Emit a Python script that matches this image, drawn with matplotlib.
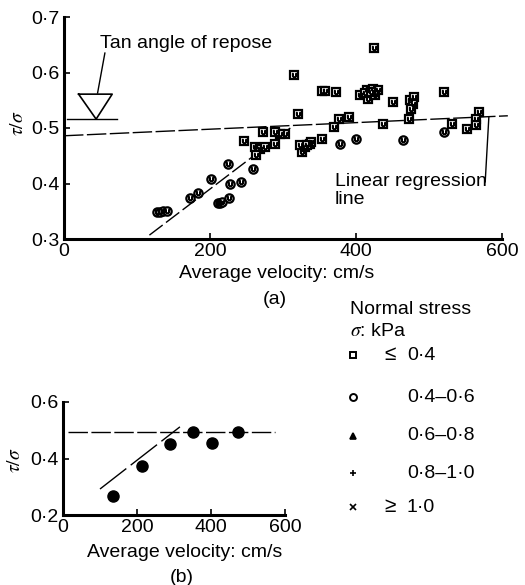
import matplotlib
matplotlib.use('Agg')
import matplotlib.pyplot as plt
from matplotlib.ticker import FuncFormatter

plt.rcParams['font.family'] = ['Liberation Sans', 'DejaVu Sans']
plt.rcParams['mathtext.fontset'] = 'stix'
plt.rcParams['font.size'] = 14

# (a) stress ratio vs velocity, sigma < 0.4 kPa (squares)
sq_x = [425, 315, 320, 354, 357, 373, 405, 415, 423, 430, 417, 426, 412, 420,
        450, 474, 480, 478, 476, 520, 568, 565, 564, 552, 532, 473, 437, 391,
        377, 370, 354, 326, 330, 337, 323, 339, 333, 303, 296, 289, 289, 273,
        262, 268, 275, 263, 246]
sq_y = [0.644, 0.595, 0.526, 0.567, 0.567, 0.564, 0.559, 0.568, 0.571, 0.568,
        0.553, 0.560, 0.563, 0.565, 0.547, 0.550, 0.555, 0.544, 0.535, 0.565,
        0.529, 0.517, 0.505, 0.499, 0.507, 0.516, 0.507, 0.520, 0.516, 0.501,
        0.481, 0.457, 0.466, 0.472, 0.469, 0.475, 0.470, 0.490, 0.490, 0.492,
        0.472, 0.492, 0.466, 0.463, 0.465, 0.451, 0.477]

# (a) sigma 0.4-0.6 kPa (circles)
ci_x = [127, 131, 136, 141, 173, 184, 202, 211, 214, 216, 226, 224, 227, 242,
        259, 378, 400, 465, 520]
ci_y = [0.349, 0.349, 0.350, 0.350, 0.373, 0.382, 0.408, 0.364, 0.364, 0.366,
        0.374, 0.435, 0.400, 0.403, 0.427, 0.471, 0.480, 0.478, 0.492]

# fitted lines in (a)
reg_x = [0, 608]
reg_y = [0.486, 0.522]
rise_x = [117, 310]
rise_y = [0.307, 0.500]
repose_y = 0.516

# (b) averaged values
b_x = [135, 213, 289, 352, 402, 474]
b_y = [0.268, 0.373, 0.451, 0.495, 0.454, 0.495]
b_flat_x = [14, 573]
b_flat_y = [0.493, 0.493]
b_rise_x = [100, 316]
b_rise_y = [0.292, 0.512]

legend_labels = ['0·4', '0·4–0·6', '0·6–0·8', '0·8–1·0', '1·0']
legend_markers = ['s', 'o', '^', '+', 'x']

dot_fmt = FuncFormatter(lambda v, p: ('%g' % v).replace('.', '·'))


def style_axes(ax):
    for s in ['top', 'right']:
        ax.spines[s].set_visible(False)
    for s in ['left', 'bottom']:
        ax.spines[s].set_linewidth(2.2)
    ax.tick_params(direction='in', length=4, width=1.2, labelsize=14)
    ax.tick_params(axis='y', pad=3)
    ax.tick_params(axis='x', pad=3)
    ax.yaxis.set_major_formatter(dot_fmt)


fig = plt.figure(figsize=(5.25, 5.85), dpi=100)

# ---- panel (a)
ax = fig.add_axes([64 / 525, 1 - 239 / 585, 438 / 525, 222 / 585])
style_axes(ax)
ax.set_xlim(0, 600)
ax.set_ylim(0.3, 0.7)
ax.set_xticks([0, 200, 400, 600])
ax.set_yticks([0.3, 0.4, 0.5, 0.6, 0.7])

ax.plot(reg_x, reg_y, color='black', lw=1, ls=(0, (14, 2.5)), clip_on=False)
ax.plot(rise_x, rise_y, color='black', lw=1, ls=(0, (12, 3)))

ax.plot(sq_x, sq_y, ls='none', marker='s', ms=5.5, mfc='white', mec='black', mew=1.6)
ax.plot(sq_x, sq_y, ls='none', marker=r'$\cup$', ms=3, color='black')
ax.plot(ci_x, ci_y, ls='none', marker='o', ms=6, mfc='white', mec='black', mew=1.6)
ax.plot(ci_x, ci_y, ls='none', marker=r'$\cup$', ms=3, color='black')

# angle of repose symbol
ax.plot([4, 72], [repose_y, repose_y], color='black', lw=1)
ax.plot([20, 66, 44, 20], [0.561, 0.561, repose_y, 0.561], color='black', lw=1.2)
ax.plot([56, 46], [0.635, 0.563], color='black', lw=1)
ax.text(49, 0.652, 'Tan angle of repose', ha='left', va='center', fontsize=14)

ax.plot([577, 582], [0.403, 0.520], color='black', lw=1)
ax.text(371, 0.388, 'Linear regression\nline', ha='left', va='center',
        fontsize=14, linespacing=1.1)

ax.set_xlabel('Average velocity: cm/s', fontsize=14)
ax.xaxis.set_label_coords(0.486, -0.115)
ax.set_ylabel(r'$\tau/\sigma$', fontsize=14)
ax.yaxis.set_label_coords(-0.085, 0.52)
fig.text(275 / 525, 1 - 300 / 585, '(a)', ha='center', va='center', fontsize=14)

# ---- panel (b)
bx = fig.add_axes([63 / 525, 1 - 515 / 585, 222 / 525, 113 / 585])
style_axes(bx)
bx.set_xlim(0, 600)
bx.set_ylim(0.2, 0.6)
bx.set_xticks([0, 200, 400, 600])
bx.set_yticks([0.2, 0.4, 0.6])
bx.plot(b_flat_x, b_flat_y, color='black', lw=1, ls=(0, (14, 2.5)))
bx.plot(b_rise_x, b_rise_y, color='black', lw=1, ls=(0, (24, 4)))
bx.plot(b_x, b_y, ls='none', marker='o', ms=8, color='black')
bx.set_xlabel('Average velocity: cm/s', fontsize=14)
bx.xaxis.set_label_coords(0.55, -0.255)
bx.set_ylabel(r'$\tau/\sigma$', fontsize=14)
bx.yaxis.set_label_coords(-0.175, 0.49)
fig.text(182 / 525, 1 - 577 / 585, '(b)', ha='center', va='center', fontsize=14)

# ---- legend block
lg = fig.add_axes([0, 0, 1, 1])
lg.set_xlim(0, 525)
lg.set_ylim(585, 0)
lg.axis('off')
lg.text(350, 310, 'Normal stress', ha='left', va='center', fontsize=14)
lg.text(350, 331, r'$\sigma$: kPa', ha='left', va='center', fontsize=14)
row_y = [355, 397, 436, 473, 507]
for i, (m, lab) in enumerate(zip(legend_markers, legend_labels)):
    if m == 's':
        lg.plot(353, row_y[i], marker='s', ms=5, mfc='white', mec='black', mew=1.4)
    elif m == 'o':
        lg.plot(353, row_y[i], marker='o', ms=5, mfc='white', mec='black', mew=1.4)
    else:
        lg.plot(353, row_y[i], marker=m, ms=4.5, color='black', mew=1.2)
    lg.text(407, row_y[i], lab, ha='left', va='center', fontsize=14)
lg.text(396, row_y[0], '≤', ha='right', va='center', fontsize=15)
lg.text(396, row_y[4], '≥', ha='right', va='center', fontsize=15)

fig.savefig('out.png', dpi=100)
